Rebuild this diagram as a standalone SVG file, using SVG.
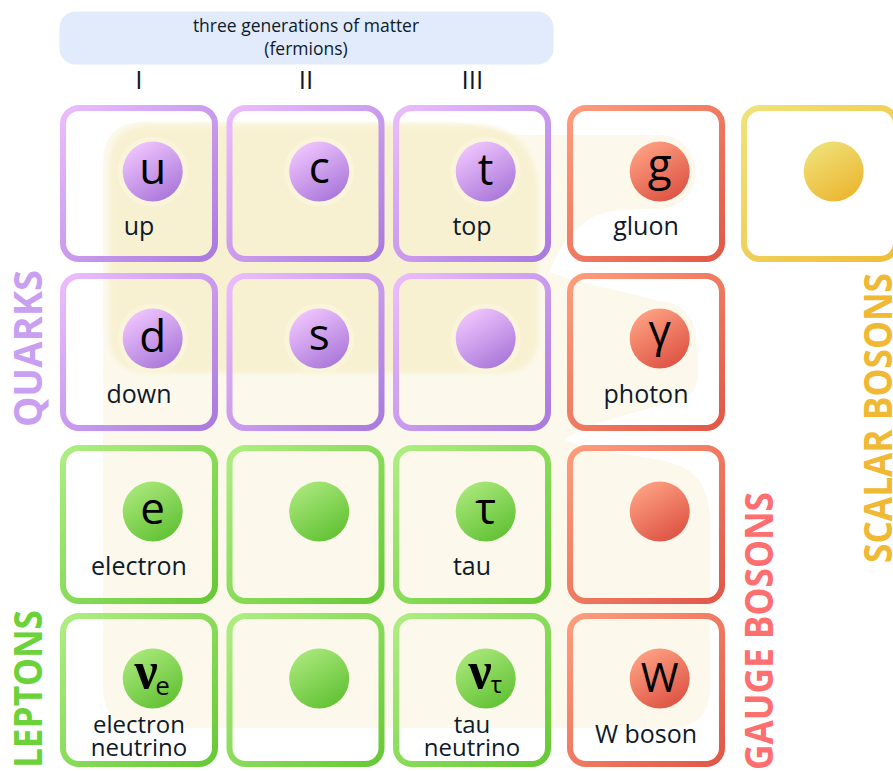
<svg xmlns="http://www.w3.org/2000/svg" width="893" height="771" viewBox="0 0 893 771">
<defs>
<linearGradient id="qS" x1="0" y1="0" x2="1" y2="1"><stop offset="0" stop-color="#ecbdfc"/><stop offset="1" stop-color="#a97ade"/></linearGradient>
<linearGradient id="qC" x1="0.2" y1="0" x2="0.8" y2="1"><stop offset="0" stop-color="#f2c8ff"/><stop offset="1" stop-color="#a674d8"/></linearGradient>
<linearGradient id="lS" x1="0" y1="0" x2="1" y2="1"><stop offset="0" stop-color="#aeee82"/><stop offset="1" stop-color="#66c934"/></linearGradient>
<linearGradient id="lC" x1="0.2" y1="0" x2="0.8" y2="1"><stop offset="0" stop-color="#ace97e"/><stop offset="1" stop-color="#5ec030"/></linearGradient>
<linearGradient id="gS" x1="0" y1="0" x2="1" y2="1"><stop offset="0" stop-color="#ff9c7c"/><stop offset="1" stop-color="#e05848"/></linearGradient>
<linearGradient id="gC" x1="0.2" y1="0" x2="0.8" y2="1"><stop offset="0" stop-color="#ffa484"/><stop offset="1" stop-color="#dc4f40"/></linearGradient>
<linearGradient id="sS" x1="0" y1="0" x2="1" y2="1"><stop offset="0" stop-color="#f0e27a"/><stop offset="1" stop-color="#efbd38"/></linearGradient>
<linearGradient id="sC" x1="0.2" y1="0" x2="0.8" y2="1"><stop offset="0" stop-color="#efe27a"/><stop offset="1" stop-color="#ecb42e"/></linearGradient>
<filter id="blur" x="-5%" y="-5%" width="110%" height="110%"><feGaussianBlur stdDeviation="2.5"/></filter>
</defs>
<style>
.cell{fill:none;stroke-width:6}
.q{stroke:url(#qS)}.l{stroke:url(#lS)}.g{stroke:url(#gS)}.s{stroke:url(#sS)}
.qc{fill:url(#qC)}.lc{fill:url(#lC)}.gc{fill:url(#gC)}.sc{fill:url(#sC)}
text{font-family:"Open Sans","Noto Sans","DejaVu Sans",sans-serif;fill:#0e1a2b}
.sym{font-size:44px;text-anchor:middle;fill:#000}
.gr{font-family:"Liberation Serif","DejaVu Serif",serif;font-weight:bold}
.lab{font-size:25px;text-anchor:middle}
.lab2{font-size:24px;text-anchor:middle}
.side{font-size:40px;font-weight:bold}
.halo{fill:#faf4db}
</style>
<rect width="893" height="771" fill="#ffffff"/>
<g id="background">
<path fill="#fcf9ec" d="M 145 122 L 440 122 C 480 122 490 135 525 135 L 659 135 A 37 37 0 0 1 659 209 C 625 209 600 210 585 222 C 565 238 555 255 550 272 C 575 282 620 290 659 301 A 37 37 0 0 1 696 338 C 700 365 700 385 690 395 C 660 410 600 415 565 440 C 600 455 660 455 685 468 C 705 480 710 500 710 525 L 710 688 Q 710 728 670 728 L 143 728 Q 103 728 103 688 L 103 162 Q 103 122 145 122 Z"/>
<path fill="#f8f1d1" filter="url(#blur)" d="M 150 125 L 470 125 Q 538 125 538 194 L 538 336 Q 538 373 500 373 L 150 373 Q 109 373 109 334 L 109 166 Q 109 125 150 125 Z"/>
<circle class="halo" cx="152.7" cy="171.5" r="35"/>
<circle class="halo" cx="319.2" cy="171.5" r="35"/>
<circle class="halo" cx="485.7" cy="171.5" r="35"/>
<circle class="halo" cx="152.7" cy="338.5" r="35"/>
<circle class="halo" cx="319.2" cy="338.5" r="35"/>
<circle class="halo" cx="485.7" cy="338.5" r="35"/>
</g>
<g id="header">
<rect x="59.5" y="11.5" width="494" height="53" rx="16" fill="#e1ebfb"/>
<text x="306" y="31.5" font-size="17.5" text-anchor="middle">three generations of matter</text>
<text x="306" y="55" font-size="17.5" text-anchor="middle">(fermions)</text>
<text x="139" y="89" font-size="26" text-anchor="middle">I</text>
<text x="306" y="89" font-size="26" text-anchor="middle">II</text>
<text x="472.5" y="89" font-size="26" text-anchor="middle">III</text>
</g>
<g id="side-labels">
<text class="side" style="fill:#c99ff2" transform="translate(42,427) rotate(-90)" textLength="157" lengthAdjust="spacingAndGlyphs">QUARKS</text>
<text class="side" style="fill:#6bd23a" transform="translate(42,768) rotate(-90)" textLength="158" lengthAdjust="spacingAndGlyphs">LEPTONS</text>
<text class="side" style="fill:#ff6f6f" transform="translate(773,770) rotate(-90)" textLength="278" lengthAdjust="spacingAndGlyphs">GAUGE BOSONS</text>
<text class="side" style="fill:#f0b833" transform="translate(892,563) rotate(-90)" textLength="290" lengthAdjust="spacingAndGlyphs">SCALAR BOSONS</text>
</g>
<g id="up"><rect class="cell q" x="63" y="108" width="152" height="151" rx="16"/><circle class="qc" cx="152.7" cy="171.5" r="30"/><text class="sym" x="152.7" y="183.5">u</text><text class="lab" x="139" y="235">up</text></g>
<g id="charm"><rect class="cell q" x="229.5" y="108" width="152" height="151" rx="16"/><circle class="qc" cx="319.2" cy="171.5" r="30"/><text class="sym" x="319.2" y="182.5">c</text></g>
<g id="top"><rect class="cell q" x="396" y="108" width="152" height="151" rx="16"/><circle class="qc" cx="485.7" cy="171.5" r="30"/><text class="sym" x="485.7" y="184.5">t</text><text class="lab" x="472" y="235">top</text></g>
<g id="gluon"><rect class="cell g" x="570" y="108" width="152" height="151" rx="16"/><circle class="gc" cx="659.7" cy="171.5" r="30"/><text class="sym" x="659.7" y="180">g</text><text class="lab" x="646" y="235">gluon</text></g>
<g id="higgs"><rect class="cell s" x="744" y="108" width="152" height="151" rx="16"/><circle class="sc" cx="833.7" cy="171.5" r="30"/></g>
<g id="down"><rect class="cell q" x="63" y="276" width="152" height="152" rx="16"/><circle class="qc" cx="152.7" cy="338.5" r="30"/><text class="sym" x="152.7" y="351.5">d</text><text class="lab" x="139" y="403">down</text></g>
<g id="strange"><rect class="cell q" x="229.5" y="276" width="152" height="152" rx="16"/><circle class="qc" cx="319.2" cy="338.5" r="30"/><text class="sym" x="319.2" y="349.5">s</text></g>
<g id="bottom"><rect class="cell q" x="396" y="276" width="152" height="152" rx="16"/><circle class="qc" cx="485.7" cy="338.5" r="30"/></g>
<g id="photon"><rect class="cell g" x="570" y="276" width="152" height="152" rx="16"/><circle class="gc" cx="659.7" cy="338.5" r="30"/><text class="sym" x="659.7" y="346">γ</text><text class="lab" x="646" y="403">photon</text></g>
<g id="electron"><rect class="cell l" x="63" y="448" width="152" height="153" rx="16"/><circle class="lc" cx="152.7" cy="511.5" r="30"/><text class="sym" x="152.7" y="523.5">e</text><text class="lab" x="139" y="575">electron</text></g>
<g id="muon"><rect class="cell l" x="229.5" y="448" width="152" height="153" rx="16"/><circle class="lc" cx="319.2" cy="511.5" r="30"/></g>
<g id="tau"><rect class="cell l" x="396" y="448" width="152" height="153" rx="16"/><circle class="lc" cx="485.7" cy="511.5" r="30"/><text class="sym" x="485.7" y="524">τ</text><text class="lab" x="472" y="575">tau</text></g>
<g id="z-boson"><rect class="cell g" x="570" y="448" width="152" height="153" rx="16"/><circle class="gc" cx="659.7" cy="511.5" r="30"/></g>
<g id="electron-neutrino"><rect class="cell l" x="63" y="616" width="152" height="148" rx="16"/><circle class="lc" cx="152.7" cy="678.5" r="30"/><text class="sym gr" x="146" y="688" style="font-size:52px">ν</text><text class="sym" x="162.5" y="695" style="font-size:26px">e</text><text class="lab2" x="139" y="733">electron</text><text class="lab2" x="139" y="756">neutrino</text></g>
<g id="muon-neutrino"><rect class="cell l" x="229.5" y="616" width="152" height="148" rx="16"/><circle class="lc" cx="319.2" cy="678.5" r="30"/></g>
<g id="tau-neutrino"><rect class="cell l" x="396" y="616" width="152" height="148" rx="16"/><circle class="lc" cx="485.7" cy="678.5" r="30"/><text class="sym gr" x="480" y="688" style="font-size:52px">ν</text><text class="sym" x="496.5" y="693" style="font-size:24px">τ</text><text class="lab2" x="472" y="733">tau</text><text class="lab2" x="472" y="756">neutrino</text></g>
<g id="w-boson"><rect class="cell g" x="570" y="616" width="152" height="148" rx="16"/><circle class="gc" cx="659.7" cy="678.5" r="30"/><text class="sym" x="659.7" y="692" style="font-size:41px">W</text><text class="lab" x="646" y="743">W boson</text></g>
</svg>
